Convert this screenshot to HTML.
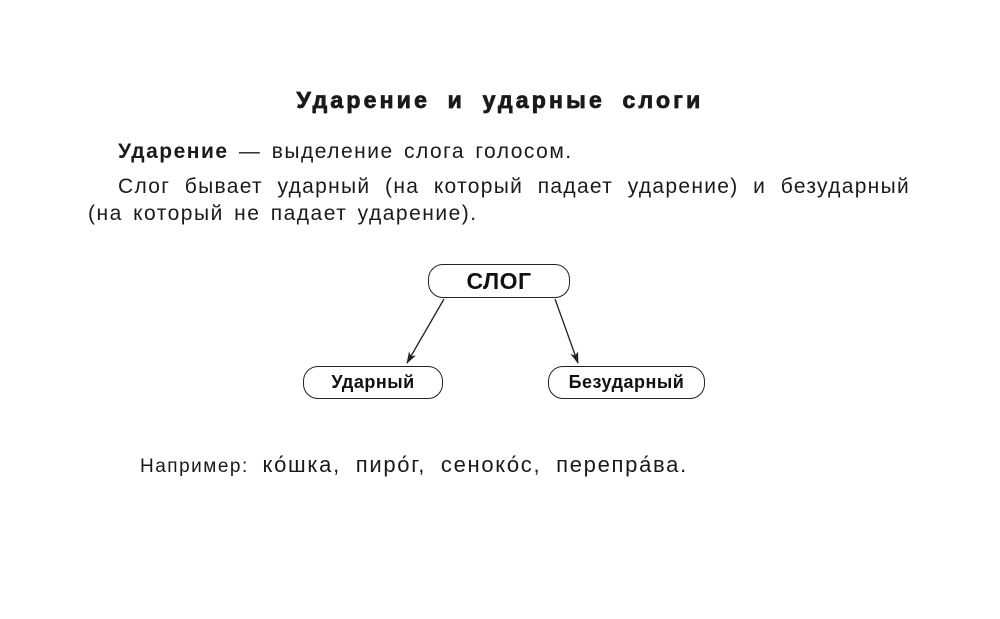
<!DOCTYPE html>
<html><head><meta charset="utf-8"><style>
body{margin:0;width:1000px;height:619px;background:#fff;position:relative;overflow:hidden;font-family:"Liberation Sans",sans-serif;color:#1a1a1a}
.t{position:absolute;white-space:nowrap}
.box{position:absolute;border:1.5px solid #222;border-radius:15px;box-sizing:border-box;font-weight:bold;display:flex;align-items:center;justify-content:center;color:#111;letter-spacing:0.5px}
</style></head><body>
<div class="t" style="left:0;width:1000px;text-align:center;top:87px;font-size:23px;font-weight:900;letter-spacing:3.2px;word-spacing:8px;-webkit-text-stroke:0.8px #1a1a1a">Ударение и ударные слоги</div>
<div class="t" style="left:118px;top:140px;font-size:21px;letter-spacing:1.5px;word-spacing:3px"><b>Ударение</b> — выделение слога голосом.</div>
<div class="t" style="left:118px;top:175px;font-size:21px;letter-spacing:1.3px;width:792px;text-align:justify;text-align-last:justify;white-space:normal">Слог бывает ударный (на который падает ударение) и безударный</div>
<div class="t" style="left:88px;top:202px;font-size:21px;letter-spacing:1.5px;word-spacing:3px">(на который не падает ударение).</div>
<div class="box" style="left:428px;top:264px;width:142px;height:34px;font-size:23px">СЛОГ</div>
<div class="box" style="left:303px;top:366px;width:140px;height:33px;font-size:18px">Ударный</div>
<div class="box" style="left:548px;top:366px;width:157px;height:33px;font-size:18px">Безударный</div>
<svg style="position:absolute;left:0;top:0" width="1000" height="619">
<defs><marker id="a" markerWidth="12" markerHeight="8" refX="11" refY="4" orient="auto" markerUnits="userSpaceOnUse"><path d="M0,0 L12,4 L0,8 L3,4 Z" fill="#222"/></marker></defs>
<line x1="444" y1="299" x2="407" y2="363" stroke="#222" stroke-width="1.3" marker-end="url(#a)"/>
<line x1="555" y1="299" x2="578" y2="363" stroke="#222" stroke-width="1.3" marker-end="url(#a)"/>
</svg>
<div class="t" style="left:140px;top:452px;font-size:19px;letter-spacing:1.5px;word-spacing:7px">Например: <span style="font-size:22px;letter-spacing:1.7px">ко́шка, пиро́г, сеноко́с, перепра́ва.</span></div>
</body></html>
